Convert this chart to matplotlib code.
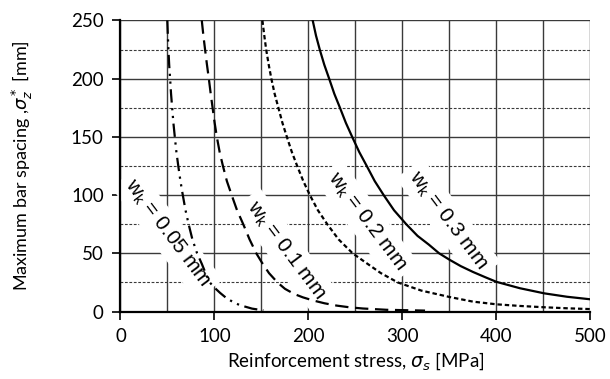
import matplotlib
matplotlib.use('Agg')
import matplotlib.pyplot as plt
from matplotlib.ticker import MultipleLocator

plt.rcParams['font.family'] = ['Lato', 'DejaVu Sans']

# values: stress (MPa) -> max bar spacing (mm)
sig_005 = [49.8, 50.4, 51, 51.8, 52.8, 53.8, 55, 56.3, 57.8, 59.5, 61.5, 63.8, 66.3, 69.2,
           72.5, 76.5, 81.5, 86.5, 91, 95, 100, 106, 112, 120, 127, 140, 152]
s_005 = [250, 237, 225, 212, 200, 187, 175, 162, 150, 137, 125, 112, 100, 87,
         75, 62, 50, 41, 32, 25, 20.5, 16, 12, 8, 5.5, 2.5, 1]

sig_01 = [86.5, 88.2, 90, 92, 94, 96, 98, 100.2, 102.5, 105.5, 109, 113.2, 118.3, 124, 130.6,
          137.3, 144.5, 150.5, 158, 167, 175, 185, 194, 205, 217, 230, 244, 258, 283, 324]
s_01 = [250, 237, 225, 212, 200, 187, 175, 162, 150, 137, 125, 112, 100, 87, 75,
        62, 50, 42, 33, 25, 19.5, 15, 12.2, 9.5, 7.1, 5.1, 3.6, 2.6, 1.5, 0.8]

sig_02 = [151, 153, 155, 157.7, 160.5, 164, 168, 172.3, 177, 182.3, 188, 194.5, 201.5,
          210, 220, 232, 247, 261, 277, 295, 320, 350, 375, 400, 425, 450, 475, 500]
s_02 = [250, 237, 225, 212, 200, 187, 175, 162, 150, 137, 125, 112, 100,
        87, 75, 62, 50, 42, 33, 25, 18, 12.5, 8.5, 6.2, 4.8, 3.7, 2.8, 2.1]

sig_03 = [204.5, 208, 212, 216.8, 222, 227.5, 233.5, 239.8, 246.5, 254, 262, 270.5, 280,
          291, 304, 316, 328, 339, 350, 362, 375, 388, 400, 425, 451, 475, 500]
s_03 = [250, 237, 225, 212, 200, 187, 175, 162, 150, 137, 125, 112, 100,
        87, 75, 65, 57.5, 50, 44.5, 39, 34, 29.5, 25.5, 20, 15.6, 12.7, 10.5]

labels = ['0.05', '0.1', '0.2', '0.3']
label_pos = [(49.6, 67), (175.7, 52.8), (262, 77), (348.7, 78.5)]

fig = plt.figure(figsize=(6.1, 3.79), dpi=100)
ax = fig.add_axes([0.1975, 0.178, 0.7705, 0.768])

ax.plot(sig_005, s_005, color='black', lw=1.6, ls=(0, (6, 2.5, 1, 2.5, 1, 2.5)), zorder=3)
ax.plot(sig_01, s_01, color='black', lw=1.6, ls=(0, (6, 3)), zorder=3)
ax.plot(sig_02, s_02, color='black', lw=1.6, ls=(0, (2, 1.3)), zorder=3)
ax.plot(sig_03, s_03, color='black', lw=1.6, ls='-', zorder=3)

for lab, (x, y) in zip(labels, label_pos):
    ax.text(x, y, '$\\mathregular{w_k}$ = ' + lab + ' mm', rotation=-53,
            ha='center', va='center', fontsize=15, zorder=2.5,
            family=['Liberation Sans', 'DejaVu Sans'],
            bbox=dict(boxstyle='square,pad=0.3', fc='white', ec='none'))

ax.set_xlim(0, 500)
ax.set_ylim(0, 250)
ax.xaxis.set_major_locator(MultipleLocator(100))
ax.xaxis.set_minor_locator(MultipleLocator(50))
ax.yaxis.set_major_locator(MultipleLocator(50))
ax.yaxis.set_minor_locator(MultipleLocator(25))

ax.set_axisbelow(True)
ax.grid(True, axis='x', which='both', color='#3a3a3a', lw=1.0)
ax.grid(True, axis='y', which='major', color='#3a3a3a', lw=1.0)
ax.grid(True, axis='y', which='minor', color='#3a3a3a', lw=0.8, ls=(0, (2.5, 1.5)))

ax.tick_params(which='major', direction='out', length=6, width=1.2, labelsize=13.5, pad=6)
ax.tick_params(which='minor', length=0)
for sp in ['top', 'right']:
    ax.spines[sp].set_visible(False)
for sp in ['left', 'bottom']:
    ax.spines[sp].set_linewidth(1.6)

ax.set_xlabel('Reinforcement stress, $\\sigma_s$ [MPa]', fontsize=13.5, labelpad=4)
ax.set_ylabel('Maximum bar spacing ,$\\sigma_z^*$ [mm]', fontsize=13, labelpad=26)

fig.savefig('out.png', dpi=100)
